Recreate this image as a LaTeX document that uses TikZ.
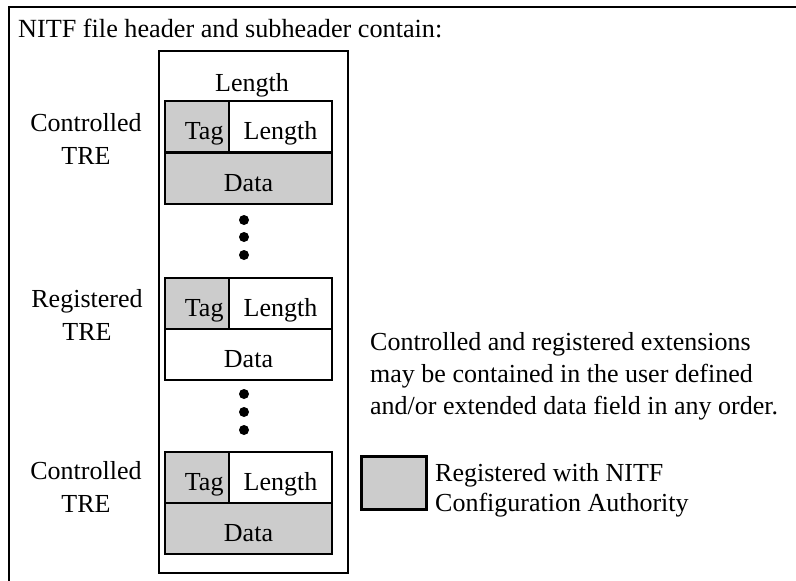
\documentclass[tikz,border=0pt]{standalone}
\usepackage{fontspec}
\setmainfont{Liberation Serif}
\definecolor{regray}{RGB}{204,204,204}
\begin{document}
\begin{tikzpicture}[x=1pt,y=-1pt,
  txt/.style={font=\fontsize{26}{33}\selectfont, inner sep=0pt},
  cell/.style={draw, line width=2pt, inner sep=0pt, anchor=north west,
    minimum height=51pt, text height=26pt, text depth=0pt,
    font=\fontsize{26}{33}\selectfont},
  tagcell/.style={cell, fill=regray, minimum width=64pt, text width=53pt, align=right},
  reg/.style={fill=regray},
  dot/.style={circle, fill=black, inner sep=0pt, minimum size=10pt},
  lbl/.style={txt, align=center}]
\useasboundingbox (0,0) rectangle (796,581);
% outer frame
\draw[line width=2pt] (796,7) -- (9,7) -- (9,581);
\node[txt, anchor=base west, font=\fontsize{26.2}{33}\selectfont] (title) at (18,37) {NITF file header and subheader contain:};
% header box
\node[draw, line width=2pt, anchor=north west, minimum width=189pt, minimum height=522pt, inner sep=0pt] (hdr) at (158,50) {};
\node[txt, anchor=base] (totlen) at (252,91) {Length};
% first controlled TRE
\node[tagcell] (tag1) at (164,100) {Tag};
\node[cell, minimum width=103pt] (len1) at (228,100) {Length};
\node[cell, reg, minimum width=167pt] (dat1) at (164,152) {Data};
\node[lbl] (lab1) at (86,139) {Controlled\\TRE};
% dots
\node[dot] (d1) at (244,220) {};
\node[dot] (d2) at (244,237) {};
\node[dot] (d3) at (244,255) {};
% registered TRE
\node[tagcell] (tag2) at (164,277) {Tag};
\node[cell, minimum width=103pt] (len2) at (228,277) {Length};
\node[cell, minimum width=167pt] (dat2) at (164,328) {Data};
\node[lbl] (lab2) at (87,315) {Registered\\TRE};
% dots
\node[dot] (d4) at (244,394) {};
\node[dot] (d5) at (244,412) {};
\node[dot] (d6) at (244,430) {};
% last controlled TRE
\node[tagcell] (tag3) at (164,451) {Tag};
\node[cell, minimum width=103pt] (len3) at (228,451) {Length};
\node[cell, reg, minimum width=167pt] (dat3) at (164,502) {Data};
\node[lbl] (lab3) at (86,487) {Controlled\\TRE};
% note
\node[font=\fontsize{26}{32}\selectfont, inner sep=0pt, align=left, anchor=north west] (note) at (370,332) {Controlled and registered extensions\\may be contained in the user defined\\and/or extended data field in any order.};
% legend
\node[draw, reg, line width=2.5pt, anchor=north west, minimum width=65pt, minimum height=53pt, inner sep=0pt] (key) at (360,455) {};
\node[font=\fontsize{26}{30}\selectfont, inner sep=0pt, align=left, anchor=north west] (keytxt) at (435,463) {Registered with NITF\\Configuration Authority};
\end{tikzpicture}
\end{document}
